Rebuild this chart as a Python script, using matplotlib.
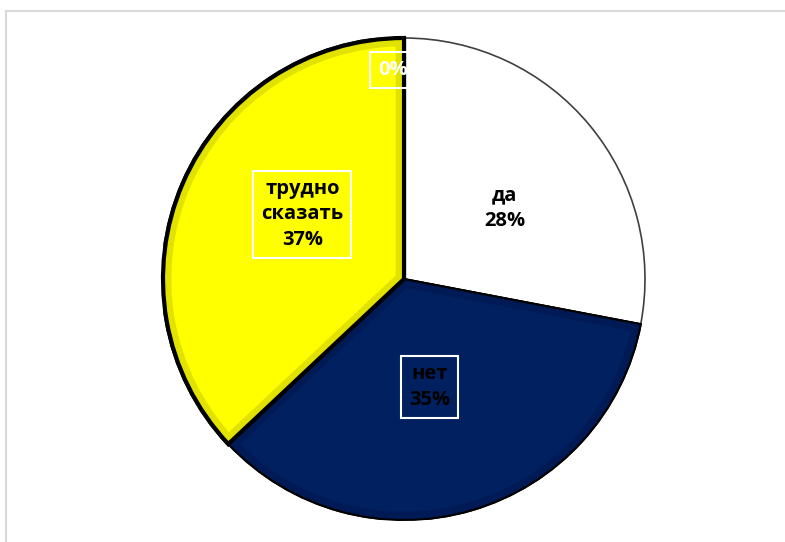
import matplotlib
matplotlib.use("Agg")
import matplotlib.pyplot as plt
from matplotlib.patches import Rectangle, Wedge
import numpy as np

categories = ["да", "нет", "трудно\nсказать", ""]
values = [28, 35, 37, 0.0001]
pct_labels = ["28%", "35%", "37%", "0%"]
colors = ["#FFFFFF", "#002060", "#FFFF00", "#FFFFFF"]

plt.rcParams['font.family'] = ['Open Sans', 'DejaVu Sans']

fig = plt.figure(figsize=(7.85, 5.42), dpi=100)
fig.patches.append(Rectangle((6/785, -0.2), 2.0, 1.2 - 11/542, transform=fig.transFigure,
                             facecolor="none", edgecolor="#d9d9d9", lw=1.5, zorder=0))

ax = fig.add_axes([(404-241)/785, (542-520)/542, 482/785, 482/542])
wedges, _ = ax.pie(values, colors=colors, startangle=90, counterclock=False,
                   radius=1.0, labels=None)
edge_cols = ["#404040", "#000000", "#000000", "#404040"]
edge_w = [1.2, 1.5, 3.0, 1.0]
bevel = [None, "#001a55", "#e2e200", None]
for w, ec, lw, bv in zip(wedges, edge_cols, edge_w, bevel):
    w.set_edgecolor(ec)
    w.set_linewidth(lw)
    if bv is not None:
        inner = Wedge(w.center, w.r, w.theta1, w.theta2, fc="none", ec=bv, lw=12, zorder=w.get_zorder() + 0.1)
        ax.add_patch(inner)
        inner.set_clip_path(w)
        outline = Wedge(w.center, w.r, w.theta1, w.theta2, fc="none", ec=ec, lw=lw, zorder=w.get_zorder() + 0.2)
        ax.add_patch(outline)

label_r = [0.51, 0.46, 0.50, 0.87]
label_adj = [-4.5, -3, -9, 3]
text_cols = ["black", "black", "black", "white"]
box = [False, True, True, True]
for i, w in enumerate(wedges):
    mid = np.deg2rad((w.theta1 + w.theta2) / 2 + label_adj[i])
    x, y = label_r[i] * np.cos(mid), label_r[i] * np.sin(mid)
    txt = pct_labels[i] if categories[i] == "" else categories[i] + "\n" + pct_labels[i]
    bb = dict(boxstyle="square,pad=0.4", fc="none", ec="white", lw=1.5) if box[i] else None
    ax.text(x, y, txt, ha="center", va="center", fontsize=14.5, fontweight="bold",
            color=text_cols[i], bbox=bb, linespacing=1.35, zorder=10)

ax.set_xlim(-1, 1)
ax.set_ylim(-1, 1)
ax.set_aspect("equal")
ax.axis("off")
fig.savefig("out.png", dpi=100)
